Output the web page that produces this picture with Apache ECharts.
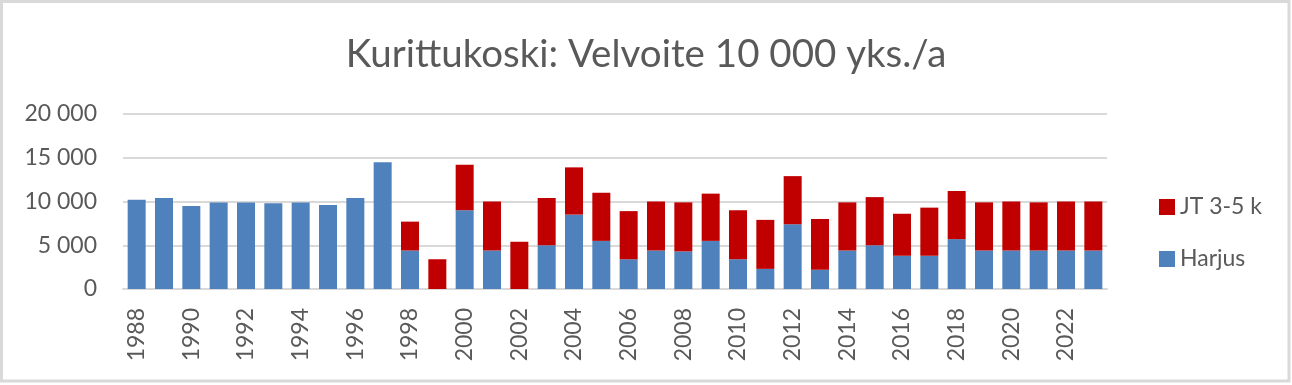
<!DOCTYPE html>
<html>
<head>
<meta charset="utf-8">
<script src="https://cdn.jsdelivr.net/npm/echarts@6/dist/echarts.min.js"></script>
<style>
html,body{margin:0;padding:0;background:#fff;}
#c{width:1292px;height:385px;}
</style>
</head>
<body>
<div id="c"></div>
<script>
const years = ['1988','1989','1990','1991','1992','1993','1994','1995','1996','1997','1998','1999','2000','2001','2002','2003','2004','2005','2006','2007','2008','2009','2010','2011','2012','2013','2014','2015','2016','2017','2018','2019','2020','2021','2022','2023'];
const harjus = [10200,10400,9500,9900,9900,9800,9900,9600,10400,14500,4400,0,9000,4400,0,5000,8500,5500,3400,4400,4300,5500,3400,2300,7400,2200,4400,5000,3800,3800,5700,4400,4400,4400,4400,4400];
const jt = [0,0,0,0,0,0,0,0,0,0,3300,3400,5200,5600,5400,5400,5400,5500,5500,5600,5600,5400,5600,5600,5500,5800,5500,5500,4800,5500,5500,5500,5600,5500,5600,5600];
const yTicks = [0,5000,10000,15000,20000];
const titleText = 'Kurittukoski: Velvoite 10 000 yks./a';

const chart = echarts.init(document.getElementById('c'), null, {renderer:'canvas'});
const FONT = 'Lato';
const TXT = '#595959';
chart.setOption({
  animation:false,
  backgroundColor:'#fff',
  title:{
    text:titleText, left:'center', top:30,
    textStyle:{fontFamily:FONT, fontSize:38.5, fontWeight:'normal', color:TXT}
  },
  legend:{
    orient:'vertical', left:1154, top:189,
    data:['JT 3-5 k','Harjus'],
    itemWidth:16, itemHeight:16, itemGap:26,
    icon:'rect',
    textStyle:{fontFamily:FONT, fontSize:23, color:TXT, lineHeight:26, padding:[0,0,0,0]}
  },
  grid:{left:123, right:185, top:114, height:175, containLabel:false},
  xAxis:{
    type:'category', data:years,
    axisLine:{lineStyle:{color:'#D9D9D9', width:2}},
    axisTick:{show:false},
    axisLabel:{interval:1, rotate:90, margin:19, fontFamily:FONT, fontSize:23, color:TXT}
  },
  yAxis:{
    type:'value', min:0, max:20000, interval:5000,
    axisLine:{show:false}, axisTick:{show:false},
    splitLine:{lineStyle:{color:'#D9D9D9', width:2}},
    axisLabel:{margin:26, fontFamily:FONT, fontSize:23, color:TXT,
      formatter:v=>String(v).replace(/\B(?=(\d{3})+(?!\d))/g,' ')}
  },
  series:[
    {name:'Harjus', type:'bar', stack:'s', data:harjus, barWidth:18,
     itemStyle:{color:'#4F81BD'}},
    {name:'JT 3-5 k', type:'bar', stack:'s', data:jt, barWidth:18,
     itemStyle:{color:'#C00000'}}
  ],
  graphic:[{
    type:'rect', silent:true, z:100,
    shape:{x:1.5, y:1.5, width:1287.5, height:379.5},
    style:{fill:'none', stroke:'#D9D9D9', lineWidth:3}
  }]
});
</script>
</body>
</html>
